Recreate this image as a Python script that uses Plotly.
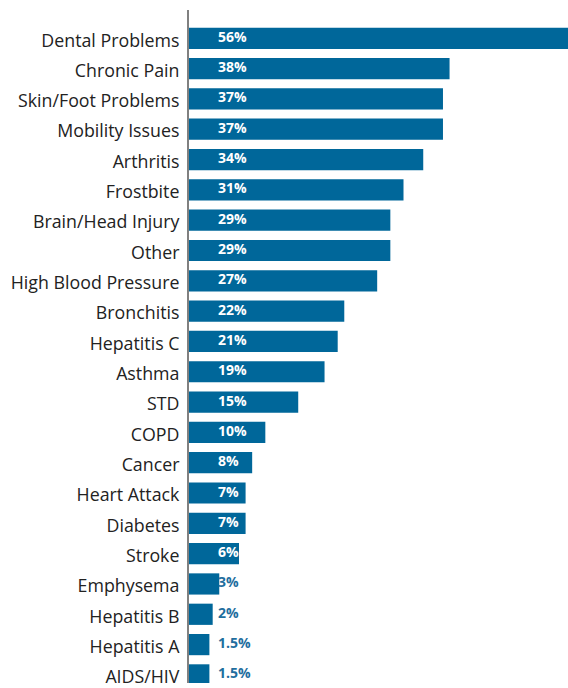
import plotly.graph_objects as go

# Health conditions, listed top to bottom
conditions = [
    "Dental Problems", "Chronic Pain", "Skin/Foot Problems", "Mobility Issues",
    "Arthritis", "Frostbite", "Brain/Head Injury", "Other", "High Blood Pressure",
    "Bronchitis", "Hepatitis C", "Asthma", "STD", "COPD", "Cancer",
    "Heart Attack", "Diabetes", "Stroke", "Emphysema", "Hepatitis B",
    "Hepatitis A", "AIDS/HIV",
]
percent = [56, 38, 37, 37, 34, 31, 29, 29, 27, 22, 21, 19, 15, 10, 8,
           7, 7, 6, 3, 2, 1.5, 1.5]
labels = ["56%", "38%", "37%", "37%", "34%", "31%", "29%", "29%", "27%",
          "22%", "21%", "19%", "15%", "10%", "8%", "7%", "7%", "6%",
          "3%", "2%", "1.5%", "1.5%"]

BAR = "#00679a"
AXIS_MIN = -1.6   # value axis starts slightly below zero; bars grow from the axis line
LABEL_X = 2.8     # value labels sit at a fixed offset from the axis

label_colors = ["white" if v >= 5 else "#1f6e9e" for v in percent]

fig = go.Figure()
fig.add_trace(go.Bar(
    # each bar runs from the axis line to its value
    base=AXIS_MIN, x=[v - AXIS_MIN for v in percent], y=conditions,
    orientation="h",
    marker=dict(color=BAR, line=dict(width=0)),
    hoverinfo="skip",
))
fig.add_trace(go.Scatter(
    x=[LABEL_X] * len(conditions), y=conditions, mode="text",
    text=labels, textposition="middle right",
    textfont=dict(family="Open Sans", size=14,
                  color=label_colors, weight="bold"),
    hoverinfo="skip",
))

fig.update_layout(
    width=568, height=688,
    margin=dict(l=189, r=0, t=10, b=0),
    paper_bgcolor="white", plot_bgcolor="white",
    showlegend=False,
    bargap=0.3,
    xaxis=dict(range=[AXIS_MIN, 56], visible=False, fixedrange=True),
    yaxis=dict(
        type="category",
        categoryorder="array", categoryarray=conditions,
        range=[21.267, -0.933],
        showline=True, linecolor="#808080", linewidth=2,
        showgrid=False, zeroline=False,
        ticks="", ticklabelstandoff=4, ticklabelshift=-2,
        tickfont=dict(family="Open Sans", size=17.8, color="#222222"),
    ),
)

fig.write_html("out.html")
